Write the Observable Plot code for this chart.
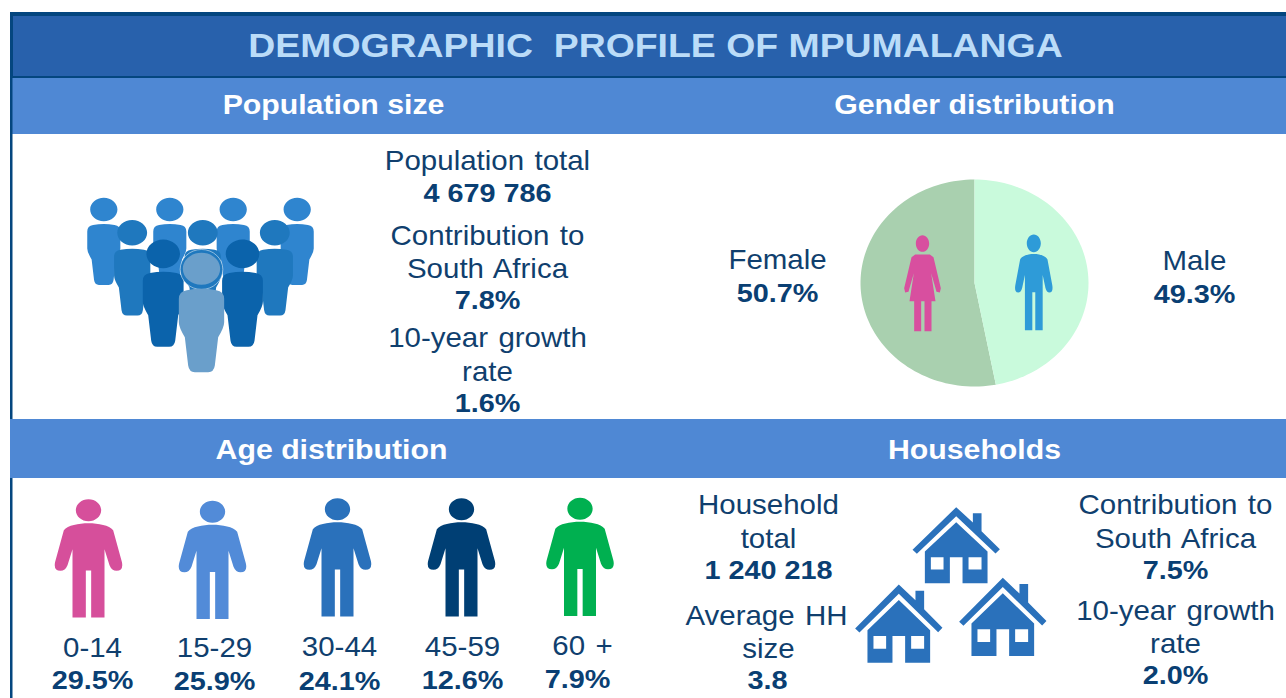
<!DOCTYPE html>
<html><head><meta charset="utf-8">
<script src="https://cdn.jsdelivr.net/npm/d3@7"></script>
<script src="https://cdn.jsdelivr.net/npm/@observablehq/plot@0.6"></script>
<style>html,body{margin:0;padding:0;background:#fff;overflow:hidden}svg{display:block}</style>
</head><body><div id="chart"></div>
<script>
// ---- data ----
const chartTitle = "DEMOGRAPHIC  PROFILE OF MPUMALANGA";
const sectionTitles = ["Population size", "Gender distribution", "Age distribution", "Households"];
const populationTotal = "4 679 786";
const populationShare = 7.8;
const populationGrowth = 1.6;
const genderLabels = ["Female", "Male"];
const genderShares = [50.7, 49.3];
// slice sizes as actually drawn in the picture (it is not a strict pie of the labels)
const genderSlicesDrawn = [53, 47];
const ageGroups = ["0-14", "15-29", "30-44", "45-59", "60 +"];
const ageShares = [29.5, 25.9, 24.1, 12.6, 7.9];
const householdTotal = "1 240 218";
const householdSize = 3.8;
const householdShare = 7.5;
const householdGrowth = 2.0;

// ---- layout / styles ----
const W = 1286, H = 698;
const pct = v => v.toFixed(1) + "%";
const C = {ink:"#103F6E", inkBold:"#0A3F73", title:"#BBDCF8", frame:"#04467F", titleBar:"#2861AC", band:"#4F88D4"};

const regular = [
  ["Population total",487,160.6],["Contribution to",487,235.6],["South Africa",487,268.6],
  ["10-year growth",487,337.6],["rate",487,371.6],
  [genderLabels[0],777,259.6],[genderLabels[1],1194,260.6],
  [ageGroups[0],92,647.6],[ageGroups[1],214,647.6],[ageGroups[2],339,646.6],[ageGroups[3],462,646.6],[ageGroups[4],582,645.6],
  ["Household",768,504.6],["total",768,538.6],["Average HH",766,615.6],["size",768,648.6],
  ["Contribution to",1175,504.6],["South Africa",1175,538.6],["10-year growth",1175,610.6],["rate",1175,643.6]
].map(([t,x,y])=>({t,x,y}));
const bold = [
  [populationTotal,487,193],[pct(populationShare),487,300],[pct(populationGrowth),487,403],
  [pct(genderShares[0]),777,293],[pct(genderShares[1]),1194,294],
  [pct(ageShares[0]),92,680],[pct(ageShares[1]),214,681],[pct(ageShares[2]),339,681],[pct(ageShares[3]),462,680],[pct(ageShares[4]),577,679],
  [householdTotal,768,570],[householdSize.toFixed(1),767,680],[pct(householdShare),1175,570],[pct(householdGrowth),1175,675]
].map(([t,x,y])=>({t,x,y}));
const sections = [[sectionTitles[0],333,104.5],[sectionTitles[1],974,104.5],[sectionTitles[2],331,449.5],[sectionTitles[3],974,449.5]].map(([t,x,y])=>({t,x,y}));

const bars = [
  {x1:10,x2:W,y1:12,y2:78,fill:C.frame},
  {x1:13,x2:W,y1:16,y2:76,fill:C.titleBar},
  {x1:12,x2:W,y1:78,y2:134,fill:C.band},
  {x1:10,x2:12.5,y1:78,y2:H,fill:C.frame},
  {x1:10,x2:W,y1:419,y2:478,fill:C.band}
];

// ---- icon symbols (x/y scale inside, Plot's r as multiplier) ----
function ell(c,cx,cy,rx,ry){const k=.5523;c.moveTo(cx+rx,cy);
  c.bezierCurveTo(cx+rx,cy+k*ry,cx+k*rx,cy+ry,cx,cy+ry);
  c.bezierCurveTo(cx-k*rx,cy+ry,cx-rx,cy+k*ry,cx-rx,cy);
  c.bezierCurveTo(cx-rx,cy-k*ry,cx-k*rx,cy-ry,cx,cy-ry);
  c.bezierCurveTo(cx+k*rx,cy-ry,cx+rx,cy-k*ry,cx+rx,cy);c.closePath();}
function poly(c,p){p.forEach(([x,y],i)=>i?c.lineTo(x,y):c.moveTo(x,y));c.closePath();}
const unit = (size)=>Math.sqrt(size/Math.PI);

// standing man, origin at figure centre, drawn in 3x-zoom px
const manSymbol=(sx,sy)=>({draw(c0,size){const u=unit(size);
  const c={moveTo:(x,y)=>c0.moveTo(x*u*sx,y*u*sy),lineTo:(x,y)=>c0.lineTo(x*u*sx,y*u*sy),
    bezierCurveTo:(a,b,d,e,f,g)=>c0.bezierCurveTo(a*u*sx,b*u*sy,d*u*sx,e*u*sy,f*u*sx,g*u*sy),
    quadraticCurveTo:(a,b,d,e)=>c0.quadraticCurveTo(a*u*sx,b*u*sy,d*u*sx,e*u*sy),closePath:()=>c0.closePath()};
  ell(c,0,-145,38,33);
  c.moveTo(0,-106);
  c.bezierCurveTo(30,-106,62,-100,74,-85);
  c.lineTo(100,10);c.quadraticCurveTo(106,37,84,37);c.quadraticCurveTo(70,37,63,20);
  c.lineTo(48,-28);c.lineTo(48,177);c.lineTo(8,177);c.lineTo(8,36);c.lineTo(-8,36);c.lineTo(-8,177);c.lineTo(-48,177);c.lineTo(-48,-28);
  c.lineTo(-63,20);c.quadraticCurveTo(-70,37,-84,37);c.quadraticCurveTo(-106,37,-100,10);
  c.lineTo(-74,-85);c.bezierCurveTo(-62,-100,-30,-106,0,-106);c.closePath();
}});
// standing woman, 3x-zoom px, origin at figure centre
const womanSymbol={draw(c,size){const u=unit(size);const P=(x,y)=>[x*u,y*u];
  ell({moveTo:(x,y)=>c.moveTo(x*u,y*u),bezierCurveTo:(a,b,d,e,f,g)=>c.bezierCurveTo(a*u,b*u,d*u,e*u,f*u,g*u),closePath:()=>c.closePath()},0,-119,20,25);
  poly(c,[[-22,-86],[22,-86],[33,-78],[55,15],[52,28],[42,26],[26,-30],[39,54],[27,54],[27,144],[6,144],[6,54],[-4,54],[-4,144],[-25,144],[-25,54],[-39,54],[-26,-30],[-42,26],[-52,28],[-55,15],[-33,-78]].map(p=>P(...p)));
}};
// crowd figure, origin at head centre
const crowdSymbol={draw(c,size){const u=unit(size);
  const q={moveTo:(x,y)=>c.moveTo(x*u,y*u),bezierCurveTo:(a,b,d,e,f,g)=>c.bezierCurveTo(a*u,b*u,d*u,e*u,f*u,g*u),closePath:()=>c.closePath()};
  ell(q,0,0,56,48);
  c.moveTo(-44*u,64*u);
  c.quadraticCurveTo(0,56*u,44*u,64*u);
  c.quadraticCurveTo(68*u,68*u,68*u,90*u);
  c.lineTo(68*u,160*u);c.quadraticCurveTo(68*u,175*u,50*u,205*u);
  c.lineTo(40*u,290*u);c.quadraticCurveTo(37*u,310*u,20*u,310*u);c.lineTo(-20*u,310*u);
  c.quadraticCurveTo(-37*u,310*u,-40*u,290*u);
  c.lineTo(-50*u,205*u);c.quadraticCurveTo(-68*u,175*u,-68*u,160*u);
  c.lineTo(-68*u,90*u);c.quadraticCurveTo(-68*u,68*u,-44*u,64*u);c.closePath();
}};
// ring behind the front figure's head
const haloSymbol={draw(c,size){const u=unit(size);
  ell({moveTo:(x,y)=>c.moveTo(x*u,y*u),bezierCurveTo:(a,b,d,e,f,g)=>c.bezierCurveTo(a*u,b*u,d*u,e*u,f*u,g*u),closePath:()=>c.closePath()},0,2,64,60);
}};
// house, origin at roof apex
const houseSymbol=(sy)=>({draw(c,size){const u=unit(size);const s=p=>p.map(([x,y])=>[x*u,y*u*sy]);
  poly(c,s([[0,0],[50,46],[50,18],[76,18],[76,72],[131,126],[118,139],[0,27],[-118,140],[-131,128]]));
  poly(c,s([[0,45],[94,133],[94,228],[19,228],[19,150],[-19,150],[-19,228],[-94,228],[-94,133]]));
  poly(c,s([[-76,150],[-76,187],[-38,187],[-38,150]]));
  poly(c,s([[37,150],[37,187],[76,187],[76,150]]));
}});

const crowdRows=[
  {r:.73/3,fill:"#2F85CF",pts:[[103.3,209],[169.3,209],[232.7,209],[296.7,209]]},
  {r:.8/3,fill:"#1F78BE",pts:[[131.7,232.3],[202.3,232.3],[274.3,232.3]]},
  {r:.9/3,fill:"#0B63AB",pts:[[162.7,253.3],[242,253.3]]},
];
const ageColors=["#D64F9B","#528BD8","#2A71BB","#003F74","#00B050"];
const ageIconX=[88,212,337,461,579.5], ageIconY=[558,559.5,557,557,556.5];
const houses=[[[955.7,506.7],1],[[898.3,584],1.03],[[1002.3,577.3],1.03]];

// ---- pie: polygon outline per slice from the slice sizes, elliptical as pictured ----
const pie={cx:974,cy:282.5,rx:114,ry:103.5};
function sliceOutline(from,to){
  const a=[[pie.cx,pie.cy]];const n=90;
  for(let i=0;i<=n;i++){const t=(from+(to-from)*i/n)*2*Math.PI;a.push([pie.cx+pie.rx*Math.sin(t),pie.cy-pie.ry*Math.cos(t)]);}
  return a;
}
const total=d3.sum(genderSlicesDrawn);
const maleFrac=genderSlicesDrawn[1]/total;
const maleSlice=sliceOutline(0,maleFrac), femaleSlice=sliceOutline(maleFrac,1);

// stretches text horizontally (the reference is slightly wider than tall)
const stretch=(sx,ws)=>(index,scales,values,dims,ctx,next)=>{
  const g=next(index,scales,values,dims,ctx);
  g.querySelectorAll("text").forEach(t=>{
    t.setAttribute("transform",(t.getAttribute("transform")||"")+` scale(${sx},1)`);
    if(ws) t.style.wordSpacing=ws+"px";
  });
  return g;
};
const font="Liberation Sans, Arial, sans-serif";
const textMark=(data,o,sx=1.1,ws=0)=>Plot.text(data,{x:"x",y:"y",text:"t",fontFamily:font,textAnchor:"middle",render:stretch(sx,ws),...o});

const plot=Plot.plot({
  width:W,height:H,margin:0,
  x:{domain:[0,W],range:[0,W],axis:null},
  y:{domain:[0,H],range:[0,H],axis:null},
  style:{background:"#fff"},
  marks:[
    ...bars.map(b=>Plot.rect([b],{x1:"x1",x2:"x2",y1:"y1",y2:"y2",fill:"fill"})),
    Plot.line(femaleSlice,{x:d=>d[0],y:d=>d[1],fill:"#A9D0AF",stroke:"none"}),
    Plot.line(maleSlice,{x:d=>d[0],y:d=>d[1],fill:"#C9FADC",stroke:"none"}),
    Plot.dot([[922,282.7]],{x:d=>d[0],y:d=>d[1],r:1/3,symbol:womanSymbol,fill:"#D84F9F",stroke:"none"}),
    Plot.dot([[1033.3,282]],{x:d=>d[0],y:d=>d[1],r:1,symbol:manSymbol(.185,.27),fill:"#2E9BD8",stroke:"none"}),
    ...crowdRows.map(row=>Plot.dot(row.pts,{x:d=>d[0],y:d=>d[1],r:row.r,symbol:crowdSymbol,fill:row.fill,stroke:"none"})),
    Plot.dot([[201,268.3]],{x:d=>d[0],y:d=>d[1],r:1/3,symbol:haloSymbol,fill:"#1F78BE",stroke:"#fff",strokeWidth:0.5}),
    Plot.dot([[201,268.3]],{x:d=>d[0],y:d=>d[1],r:1/3,symbol:crowdSymbol,fill:"#6A9FCB",stroke:"none"}),
    ...ageGroups.map((g,i)=>Plot.dot([i],{x:i=>ageIconX[i],y:i=>ageIconY[i],r:1/3,symbol:manSymbol(1,1),fill:ageColors[i],stroke:"none"})),
    ...houses.map(([p,sy])=>Plot.dot([p],{x:d=>d[0],y:d=>d[1],r:1/3,symbol:houseSymbol(sy),fill:"#2A71BB",stroke:"none"})),
    textMark([{t:chartTitle,x:655,y:46}],{fontSize:34,fontWeight:700,fill:C.title}),
    textMark(sections,{fontSize:27.5,fontWeight:700,fill:"#fff"}),
    textMark(regular,{fontSize:26.8,fill:C.ink},1.1,2),
    textMark(bold,{fontSize:26.2,fontWeight:700,fill:C.inkBold}),
  ]
});
document.getElementById("chart").appendChild(plot);
</script></body></html>
